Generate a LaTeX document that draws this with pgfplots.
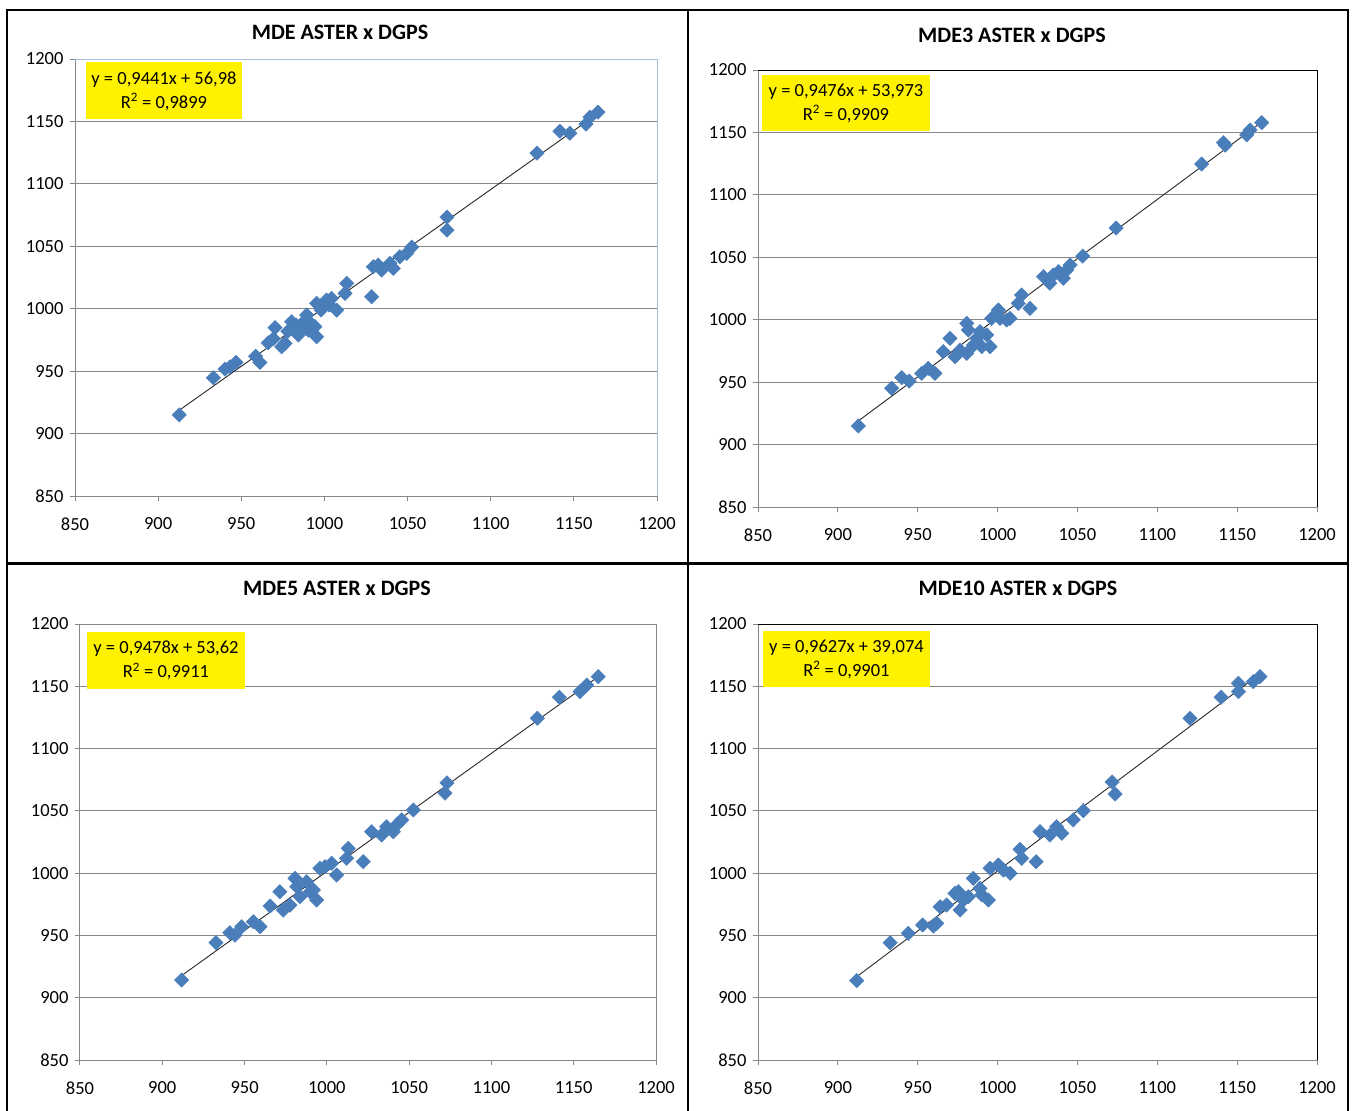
\documentclass[border=0pt]{standalone}
\usepackage{fontspec}
\setmainfont{Carlito}
\usepackage{pgfplots}
\usepackage{pgfplotstable}
\pgfplotsset{compat=1.18}

\definecolor{mkblue}{HTML}{4A7EBB}
\definecolor{gridgrey}{HTML}{868686}
\definecolor{frameblue}{HTML}{A7BFDE}

% DGPS (x) against the ASTER surface models (y)
\pgfplotstableread{
x y
912.7 914.9
933.2 944.7
940.2 951.7
943.2 953.5
946.8 957.0
958.6 962.0
961.2 957.0
966.2 972.7
969.3 976.0
970.3 984.8
974.3 969.5
976.3 972.3
978.0 982.0
980.3 989.6
983.0 987.0
984.3 979.0
986.3 985.6
988.0 990.0
989.3 994.9
990.3 982.9
992.0 988.0
994.3 985.6
995.3 977.5
995.3 1004.3
998.0 999.0
999.3 1001.6
1001.3 1006.9
1003.0 1003.0
1004.3 1008.3
1007.4 998.9
1012.4 1012.3
1013.4 1020.3
1028.4 1009.6
1029.4 1033.6
1032.4 1034.9
1034.4 1031.0
1039.4 1036.3
1041.4 1032.3
1045.4 1041.6
1049.5 1044.3
1052.5 1049.4
1073.7 1073.4
1073.7 1063.0
1127.8 1124.6
1141.6 1142.2
1147.6 1140.6
1157.3 1147.8
1159.7 1153.4
1164.5 1157.4
}\mdeA

\pgfplotstableread{
x y
912.8 914.9
933.7 945.1
940.0 953.6
944.7 950.9
952.5 957.1
956.6 961.1
960.8 957.1
966.0 974.4
970.2 985.1
973.4 970.4
976.5 975.7
980.7 997.1
981.7 991.8
980.7 973.1
984.9 979.7
987.0 985.1
989.0 990.4
990.1 978.4
995.3 978.4
993.2 987.8
996.3 1001.1
1000.5 1007.8
1001.5 1001.1
1005.7 999.8
1007.8 1001.1
1013.0 1013.1
1015.1 1019.8
1020.3 1009.1
1028.7 1034.5
1032.8 1029.2
1034.9 1035.8
1038.1 1038.5
1041.2 1033.2
1043.3 1039.8
1045.4 1043.8
1053.3 1051.0
1074.2 1073.5
1127.8 1124.7
1141.4 1141.8
1142.5 1139.8
1156.0 1148.0
1158.1 1152.0
1165.4 1157.8
}\mdeB

\pgfplotstableread{
x y
911.8 914.2
932.6 944.2
941.1 952.2
944.2 950.3
948.2 957.0
955.3 961.0
959.4 957.0
965.5 973.6
971.5 985.1
973.5 970.4
977.6 974.4
980.6 995.8
981.7 989.1
983.7 981.1
987.7 993.1
989.8 985.1
991.8 986.5
993.8 978.4
995.8 1003.9
998.9 1005.2
1002.9 1007.9
1005.9 998.5
1012.0 1011.9
1013.0 1019.9
1022.1 1009.2
1027.2 1033.3
1033.3 1030.6
1036.3 1037.3
1040.4 1033.3
1043.4 1040.0
1045.5 1042.7
1052.5 1050.7
1071.8 1064.3
1073.0 1072.4
1127.9 1124.3
1141.3 1141.2
1153.8 1145.7
1157.9 1151.0
1164.9 1157.7
}\mdeC

\pgfplotstableread{
x y
911.8 913.7
932.7 944.2
944.1 951.7
953.1 958.4
961.9 959.7
964.0 973.0
959.8 957.6
968.1 974.4
973.3 983.8
975.4 985.1
976.5 970.4
978.6 978.4
981.7 981.1
984.8 995.8
989.0 987.8
990.1 982.5
994.2 978.4
995.3 1003.9
1000.5 1006.5
1003.7 1002.5
1007.8 999.9
1014.1 1019.1
1015.1 1011.9
1024.1 1009.2
1026.6 1033.3
1032.8 1030.6
1037.0 1037.3
1040.2 1032.0
1047.4 1042.7
1053.7 1050.1
1071.7 1073.2
1073.6 1063.6
1120.5 1124.3
1139.9 1141.2
1150.8 1152.4
1150.8 1145.7
1160.1 1153.7
1164.3 1157.7
}\mdeD

\pgfplotsset{
  panel/.style={
    scale only axis,
    anchor=north west,
    xmin=850, xmax=1200, ymin=850, ymax=1200,
    xtick={850,900,...,1200}, ytick={850,900,...,1200},
    scaled ticks=false,
    /pgf/number format/1000 sep={},
    /pgf/number format/assume math mode=true,
    axis lines=left,
    axis line style={-, gridgrey, line width=1pt},
    ymajorgrids,
    grid style={gridgrey, line width=1pt},
    tick align=outside,
    major tick length=5pt,
    tick style={gridgrey, line width=1pt},
    ticklabel style={font=\fontsize{18.5}{22}\selectfont, text=black},
    yticklabel style={xshift=-3pt},
    xticklabel style={yshift=-13pt},
    clip=false,
  },
  pts/.style={only marks, mark=square*, mark size=5.1pt,
    mark options={rotate=45, fill=mkblue, draw=mkblue}},
  trend/.style={black!85, line width=0.9pt},
}

\begin{document}
\begin{tikzpicture}[x=1pt, y=1pt]
\useasboundingbox (0,0) rectangle (1352,-1111);

% panel frames
\draw[line width=2pt] (7,-1115) -- (7,-10) -- (1348,-10) -- (1348,-1115);
\draw[line width=2pt] (688,-10) -- (688,-1115);
\draw[line width=3pt] (7,-563) -- (1348,-563);

% ---- MDE ASTER
\node[font=\bfseries\fontsize{22}{24}\selectfont] at (340,-32) {MDE ASTER x DGPS};
\begin{axis}[panel, at={(75pt,-59pt)}, width=582pt, height=437pt]
  \addplot[pts] table {\mdeA};
  \addplot[trend] coordinates {(912.7,918.66) (1164.5,1156.39)};
  \draw[frameblue, line width=1pt] (rel axis cs:0,1) -- (rel axis cs:1,1) -- (rel axis cs:1,0);
\end{axis}
\fill[yellow] (86,-62) rectangle (242,-119);
\node[align=center, font=\fontsize{18.5}{24}\selectfont] at (164,-91) {y = 0,9441x + 56,98\\R\textsuperscript{2} = 0,9899};

% ---- MDE3 ASTER
\node[font=\bfseries\fontsize{22}{24}\selectfont] at (1012,-35) {MDE3 ASTER x DGPS};
\begin{axis}[panel, at={(758pt,-70pt)}, width=559pt, height=437pt]
  \addplot[pts] table {\mdeB};
  \addplot[trend] coordinates {(912.8,918.94) (1165.4,1158.30)};
  \draw[black, line width=1pt] (rel axis cs:0,1) -- (rel axis cs:1,1) -- (rel axis cs:1,0);
\end{axis}
\fill[yellow] (762,-75) rectangle (930,-131);
\node[align=center, font=\fontsize{18.5}{24}\selectfont] at (846,-103) {y = 0,9476x + 53,973\\R\textsuperscript{2} = 0,9909};

% ---- MDE5 ASTER
\node[font=\bfseries\fontsize{22}{24}\selectfont] at (337,-588) {MDE5 ASTER x DGPS};
\begin{axis}[panel, at={(80pt,-624pt)}, width=576pt, height=436pt]
  \addplot[pts] table {\mdeC};
  \addplot[trend] coordinates {(911.8,917.82) (1164.9,1157.71)};
  \draw[gridgrey, line width=1pt] (rel axis cs:0,1) -- (rel axis cs:1,1) -- (rel axis cs:1,0);
\end{axis}
\fill[yellow] (87,-632) rectangle (245,-689);
\node[align=center, font=\fontsize{18.5}{24}\selectfont] at (166,-660.5) {y = 0,9478x + 53,62\\R\textsuperscript{2} = 0,9911};

% ---- MDE10 ASTER
\node[font=\bfseries\fontsize{22}{24}\selectfont] at (1018,-588) {MDE10 ASTER x DGPS};
\begin{axis}[panel, at={(758pt,-624pt)}, width=559pt, height=436pt]
  \addplot[pts] table {\mdeD};
  \addplot[trend] coordinates {(911.8,916.86) (1164.3,1159.95)};
  \draw[black, line width=1pt] (rel axis cs:0,1) -- (rel axis cs:1,1) -- (rel axis cs:1,0);
\end{axis}
\fill[yellow] (763,-631) rectangle (930,-687);
\node[align=center, font=\fontsize{18.5}{24}\selectfont] at (846.5,-659) {y = 0,9627x + 39,074\\R\textsuperscript{2} = 0,9901};
\end{tikzpicture}
\end{document}
